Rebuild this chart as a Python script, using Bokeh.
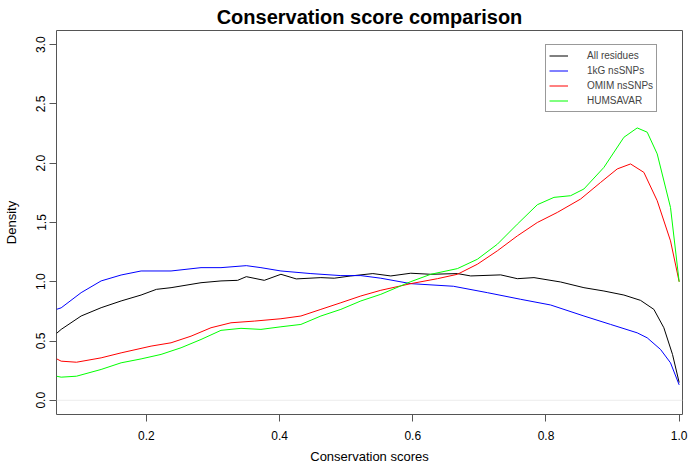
from bokeh.plotting import figure
from bokeh.models import Legend, LegendItem, FixedTicker, Span, Range1d, PrintfTickFormatter
from bokeh.embed import file_html
from bokeh.resources import INLINE

# ---- data ----
series_names = ["All residues", "1kG nsSNPs", "OMIM nsSNPs", "HUMSAVAR"]

all_x = [0.065, 0.072, 0.102, 0.132, 0.162, 0.192, 0.215, 0.237, 0.282, 0.312, 0.337, 0.350,
         0.377, 0.402, 0.425, 0.462, 0.482, 0.507, 0.540, 0.567, 0.597, 0.627, 0.667, 0.687,
         0.732, 0.757, 0.782, 0.822, 0.857, 0.887, 0.917, 0.942, 0.962, 0.977, 0.990, 1.0]
all_y = [0.564, 0.598, 0.711, 0.781, 0.838, 0.888, 0.936, 0.950, 0.992, 1.007, 1.012, 1.043,
         1.012, 1.063, 1.024, 1.035, 1.030, 1.049, 1.069, 1.049, 1.072, 1.063, 1.069, 1.049,
         1.058, 1.026, 1.035, 0.998, 0.950, 0.922, 0.888, 0.843, 0.767, 0.612, 0.387, 0.150]

kg_x = [0.065, 0.072, 0.102, 0.132, 0.162, 0.192, 0.237, 0.282, 0.312, 0.350, 0.372, 0.402,
        0.447, 0.492, 0.522, 0.552, 0.597, 0.661, 0.712, 0.762, 0.807, 0.857, 0.897, 0.937,
        0.952, 0.972, 0.987, 1.0]
kg_y = [0.767, 0.780, 0.908, 1.007, 1.057, 1.091, 1.091, 1.119, 1.119, 1.136, 1.119, 1.091,
        1.069, 1.052, 1.052, 1.030, 0.984, 0.962, 0.908, 0.852, 0.804, 0.711, 0.640, 0.569,
        0.527, 0.429, 0.316, 0.130]

omim_x = [0.065, 0.072, 0.095, 0.132, 0.162, 0.207, 0.237, 0.267, 0.297, 0.327, 0.362, 0.402,
          0.432, 0.462, 0.492, 0.522, 0.552, 0.597, 0.637, 0.667, 0.697, 0.727, 0.757, 0.787,
          0.817, 0.852, 0.882, 0.907, 0.927, 0.947, 0.967, 0.987, 1.0]
omim_y = [0.350, 0.330, 0.321, 0.358, 0.400, 0.457, 0.485, 0.541, 0.612, 0.654, 0.668, 0.688,
          0.711, 0.767, 0.823, 0.880, 0.928, 0.984, 1.026, 1.063, 1.148, 1.261, 1.387, 1.500,
          1.585, 1.698, 1.838, 1.952, 1.994, 1.923, 1.684, 1.345, 1.000]

hum_x = [0.065, 0.072, 0.095, 0.132, 0.162, 0.192, 0.222, 0.252, 0.282, 0.312, 0.342, 0.372,
         0.402, 0.432, 0.462, 0.492, 0.522, 0.552, 0.597, 0.627, 0.667, 0.697, 0.727, 0.757,
         0.787, 0.812, 0.837, 0.857, 0.887, 0.917, 0.937, 0.952, 0.967, 0.987, 1.0]
hum_y = [0.203, 0.195, 0.203, 0.260, 0.316, 0.349, 0.387, 0.443, 0.513, 0.590, 0.607, 0.598,
         0.620, 0.640, 0.711, 0.767, 0.838, 0.894, 1.001, 1.063, 1.111, 1.190, 1.317, 1.486,
         1.650, 1.712, 1.726, 1.783, 1.965, 2.219, 2.298, 2.262, 2.079, 1.627, 1.000]

x_ticks = [0.2, 0.4, 0.6, 0.8, 1.0]
y_ticks = [0.0, 0.5, 1.0, 1.5, 2.0, 2.5, 3.0]

FONT = "Liberation Sans"
AXC = "#555555"

p = figure(width=688, height=469, output_backend="svg", toolbar_location=None,
           x_range=Range1d(0.065, 1.005), y_range=Range1d(-0.12, 3.12),
           min_border_left=55, min_border_right=6, min_border_top=29, min_border_bottom=55,
           background_fill_color="white", border_fill_color="white")

p.title.text = "Conservation score comparison"
p.title.align = "center"
p.title.text_font = FONT
p.title.text_font_size = "20px"
p.title.text_font_style = "bold"
p.title.text_color = "black"
p.title.standoff = 6

p.xgrid.visible = False
p.ygrid.visible = False
p.outline_line_color = AXC
p.outline_line_width = 1

p.add_layout(Span(location=0, dimension="width", line_color="#ececec", line_width=1))

colors = ["black", "#0000FF", "#FF0000", "#00FF00"]
xs = [all_x, kg_x, omim_x, hum_x]
ys = [all_y, kg_y, omim_y, hum_y]
renderers = []
for xv, yv, c in zip(xs, ys, colors):
    renderers.append(p.line(xv, yv, line_color=c, line_width=1))

for ax in (p.xaxis[0], p.yaxis[0]):
    ax.axis_line_color = None
    ax.major_tick_line_color = AXC
    ax.major_tick_out = 7
    ax.major_tick_in = 0
    ax.minor_tick_line_color = None
    ax.major_label_text_font = FONT
    ax.major_label_text_font_size = "12px"
    ax.major_label_text_color = "black"
    ax.axis_label_text_font = FONT
    ax.axis_label_text_font_size = "13px"
    ax.axis_label_text_font_style = "normal"
    ax.axis_label_text_color = "black"
    ax.formatter = PrintfTickFormatter(format="%.1f")

p.xaxis.ticker = FixedTicker(ticks=x_ticks)
p.yaxis.ticker = FixedTicker(ticks=y_ticks)
p.xaxis.axis_label = "Conservation scores"
p.yaxis.axis_label = "Density"
p.xaxis.major_label_standoff = 9
p.xaxis.axis_label_standoff = 6
p.yaxis.major_label_standoff = 4
p.yaxis.axis_label_standoff = 15
p.yaxis.major_label_orientation = "vertical"

legend = Legend(items=[LegendItem(label=n, renderers=[r]) for n, r in zip(series_names, renderers)],
                location=(489, 302), orientation="vertical",
                glyph_width=19, glyph_height=15, label_height=15, label_standoff=19,
                spacing=0, padding=3, margin=0,
                label_text_font=FONT, label_text_font_size="10px",
                border_line_color="#333333", border_line_width=1,
                background_fill_color="white", background_fill_alpha=1)
p.add_layout(legend)

open("out.html", "w").write(file_html(p, INLINE))
